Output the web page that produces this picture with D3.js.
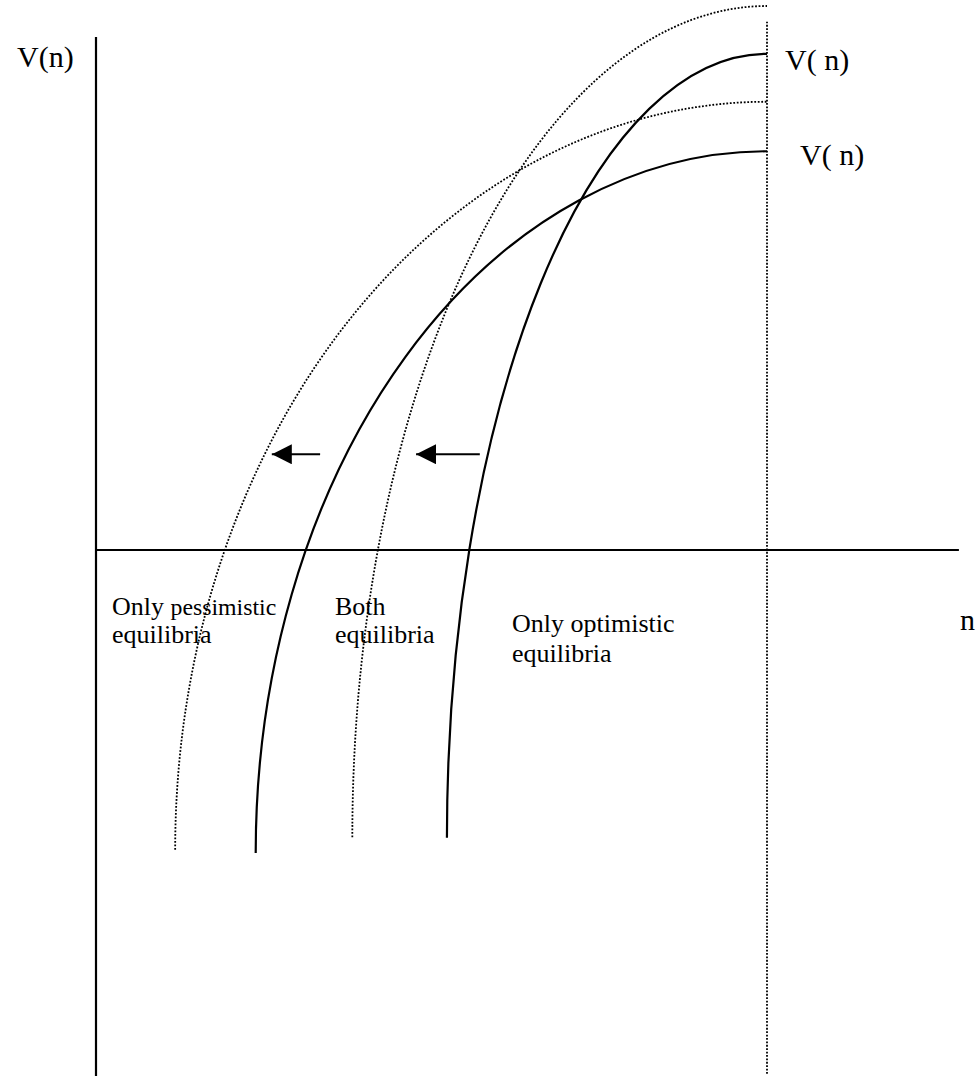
<!DOCTYPE html>
<html>
<head>
<meta charset="utf-8">
<script src="https://cdn.jsdelivr.net/npm/d3@7"></script>
<style>
  body { margin: 0; background: #fff; }
  svg { display: block; }
  text { font-family: "Liberation Serif", "Times New Roman", serif; fill: #000; }
</style>
</head>
<body>
<svg id="chart" width="978" height="1078"></svg>
<script>
// each V(n) curve is a quarter ellipse: it starts upright at (startN, startV)
// and ends flat at n = 1 with value endV (V = 0 on the n axis)
let curveNames = ["wideDotted", "steepDotted", "wideSolid", "steepSolid"];
let startN = [0.118, 0.382, 0.238, 0.523];
let startV = [-0.551, -0.528, -0.557, -0.529];
let endV = [0.824, 1.0, 0.733, 0.912];
let dotted = [true, true, false, false];

// arrows: from n, to n, at V
let arrowFrom = [0.334, 0.572];
let arrowTo = [0.262, 0.477];
let arrowV = [0.176, 0.176];

// axis extents
let nAxis = [0, 1.286];
let vAxis = [-0.967, 0.943];
let nMaxLine = [-0.963, 0.971];

let svg = d3.select("#chart");
let x = d3.scaleLinear().domain([0, 1]).range([96, 767]);
let y = d3.scaleLinear().domain([0, 1]).range([550, 6]);

// axes
svg.append("line")
    .attr("x1", x(nAxis[0])).attr("y1", y(0))
    .attr("x2", x(nAxis[1])).attr("y2", y(0))
    .attr("stroke", "#000").attr("stroke-width", 2.2);
svg.append("line")
    .attr("x1", x(0)).attr("y1", y(vAxis[0]))
    .attr("x2", x(0)).attr("y2", y(vAxis[1]))
    .attr("stroke", "#000").attr("stroke-width", 2.2);
// dotted line at n = 1
svg.append("line")
    .attr("x1", x(1)).attr("y1", y(nMaxLine[0]))
    .attr("x2", x(1)).attr("y2", y(nMaxLine[1]))
    .attr("stroke", "#000").attr("stroke-width", 1.8)
    .attr("stroke-dasharray", "1.8 1.6");

// quarter ellipse from the upright start to the flat end at n = 1
function arcPath(i) {
    let x0 = x(startN[i]), y0 = y(startV[i]);
    let x1 = x(1), y1 = y(endV[i]);
    return "M" + x0 + "," + y0 + "A" + (x1 - x0) + "," + (y0 - y1) + " 0 0 1 " + x1 + "," + y1;
}

curveNames.forEach(function (name, i) {
    let p = svg.append("path")
    .attr("class", name)
    .attr("d", arcPath(i))
    .attr("fill", "none")
    .attr("stroke", "#000");
    if (dotted[i]) {
        p.attr("stroke-width", 1.8).attr("stroke-dasharray", "1.8 1.7");
    } else {
        p.attr("stroke-width", 2.2);
    }
});

// arrows
svg.append("defs").append("marker")
    .attr("id", "head")
    .attr("markerUnits", "userSpaceOnUse")
    .attr("viewBox", "0 -10 20 20")
    .attr("refX", 20).attr("refY", 0)
    .attr("markerWidth", 20).attr("markerHeight", 20)
    .attr("orient", "auto")
    .append("path")
    .attr("d", "M0,-10L20,0L0,10Z")
    .attr("fill", "#000");
arrowFrom.forEach(function (a, i) {
    svg.append("line")
    .attr("x1", x(a)).attr("y1", y(arrowV[i]))
    .attr("x2", x(arrowTo[i])).attr("y2", y(arrowV[i]))
    .attr("stroke", "#000").attr("stroke-width", 2)
    .attr("marker-end", "url(#head)");
});

// labels
svg.append("text").attr("x", 17).attr("y", 67).attr("font-size", 30).text("V(n)");
svg.append("text").attr("x", 785).attr("y", 70).attr("font-size", 30).text("V( n)");
svg.append("text").attr("x", 800).attr("y", 165).attr("font-size", 30).text("V( n)");
svg.append("text").attr("x", 960).attr("y", 630).attr("font-size", 30).text("n");

let t1 = svg.append("text").attr("x", 112).attr("y", 615).attr("font-size", 26);
t1.append("tspan").text("Only ");
t1.append("tspan").attr("font-size", 23.8).text("pessimistic");
svg.append("text").attr("x", 112).attr("y", 643).attr("font-size", 26).text("equilibria");

svg.append("text").attr("x", 335).attr("y", 615).attr("font-size", 26).text("Both");
svg.append("text").attr("x", 335).attr("y", 643).attr("font-size", 26).text("equilibria");

svg.append("text").attr("x", 512).attr("y", 632).attr("font-size", 26).text("Only optimistic");
svg.append("text").attr("x", 512).attr("y", 662).attr("font-size", 26).text("equilibria");
</script>
</body>
</html>
